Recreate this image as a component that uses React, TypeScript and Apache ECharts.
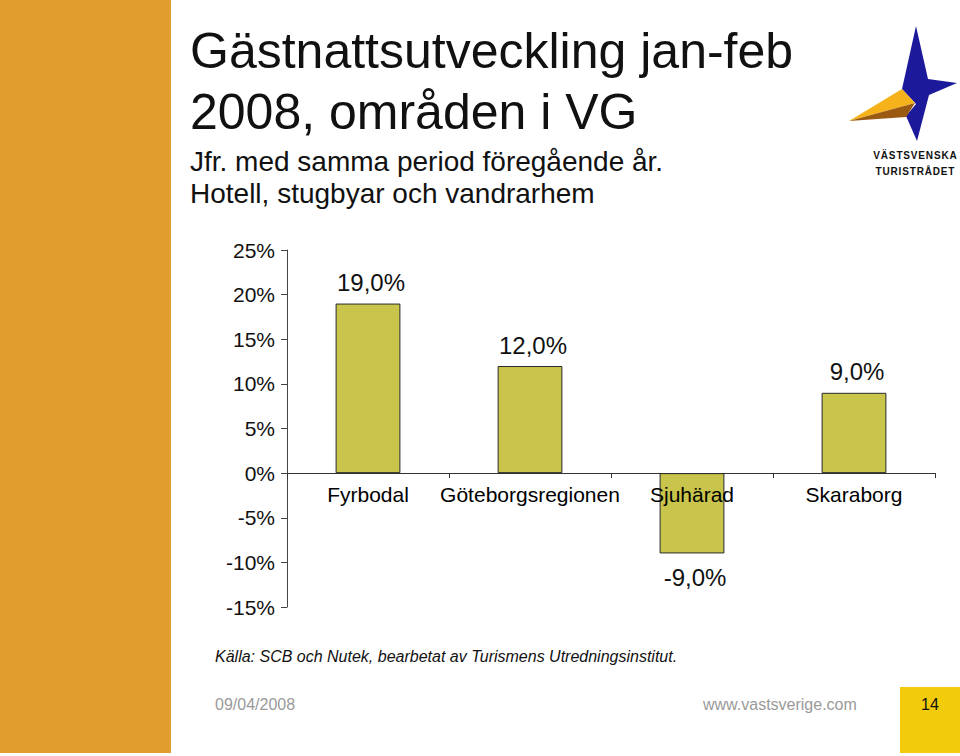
import React, { useEffect, useRef } from "react";
import * as echarts from "echarts";

const categories = ["Fyrbodal", "Göteborgsregionen", "Sjuhärad", "Skaraborg"];
const values = [19.0, 12.0, -9.0, 9.0];
const yMin = -15;
const yMax = 25;
const yStep = 5;

const titleLines = ["Gästnattsutveckling jan-feb", "2008, områden i VG"];
const subtitleLines = ["Jfr. med samma period föregående år.", "Hotell, stugbyar och vandrarhem"];
const sourceText = "Källa: SCB och Nutek, bearbetat av Turismens Utredningsinstitut.";
const footerDate = "09/04/2008";
const footerUrl = "www.vastsverige.com";
const pageNo = "14";
const logoLines = ["VÄSTSVENSKA", "TURISTRÅDET"];

const FONT = "'Liberation Sans', Arial, sans-serif";
const spaced = (s: string) => s.split("").join("\u200A");

export default function App() {
  const ref = useRef<HTMLDivElement>(null);
  useEffect(() => {
    if (!ref.current) return;
    const chart = echarts.init(ref.current, null, { renderer: "svg" });
    chart.setOption({
      animation: false,
      backgroundColor: "#ffffff",
      textStyle: { fontFamily: FONT },
      grid: { left: 287, right: 25, top: 250, bottom: 149, containLabel: false },
      xAxis: {
        type: "category",
        data: categories,
        axisLine: { onZero: true, lineStyle: { color: "#333", width: 1 } },
        axisTick: { show: true, length: 5, lineStyle: { color: "#333" } },
        axisLabel: { show: false },
        splitLine: { show: false },
      },
      yAxis: {
        type: "value",
        min: yMin,
        max: yMax,
        interval: yStep,
        axisLine: { show: true, lineStyle: { color: "#444", width: 1 } },
        axisTick: { show: true, length: 6, lineStyle: { color: "#444" } },
        axisLabel: { color: "#111", fontSize: 21, margin: 12, formatter: "{value}%", fontFamily: FONT },
        splitLine: { show: false },
      },
      series: [
        {
          type: "bar",
          barWidth: "40%",
          z: 2,
          data: values.map((v) => ({
            value: v,
            label: { position: v < 0 ? "bottom" : "top", distance: v < 0 ? 12 : 9 },
          })),
          itemStyle: { color: "#c9c44c", borderColor: "#2a2a2a", borderWidth: 1 },
          label: {
            show: true,
            fontSize: 24,
            color: "#111",
            offset: [3, 0],
            fontFamily: FONT,
            formatter: (p: any) => p.value.toFixed(1).replace(".", ",") + "%",
          },
        },
        {
          type: "scatter",
          z: 5,
          symbol: "circle",
          symbolSize: 2,
          itemStyle: { color: "rgba(0,0,0,0)", opacity: 1 },
          silent: true,
          data: categories.map((c) => ({ name: c, value: [c, 0] })),
          label: {
            show: true,
            position: "bottom",
            distance: 10,
            fontSize: 21,
            color: "#000",
            fontFamily: FONT,
            formatter: "{b}",
          },
        },
      ],
      graphic: [
        { type: "rect", shape: { x: 0, y: 0, width: 171, height: 753 }, style: { fill: "#e09e2e" } },
        { type: "text", x: 190, y: 51, style: { text: titleLines[0], font: `50px ${FONT}`, fill: "#111", textVerticalAlign: "middle" } },
        { type: "text", x: 190, y: 112, style: { text: titleLines[1], font: `50px ${FONT}`, fill: "#111", textVerticalAlign: "middle" } },
        { type: "text", x: 190, y: 161, style: { text: subtitleLines[0], font: `28px ${FONT}`, fill: "#111", textVerticalAlign: "middle" } },
        { type: "text", x: 190, y: 193, style: { text: subtitleLines[1], font: `28px ${FONT}`, fill: "#111", textVerticalAlign: "middle" } },
        { type: "text", x: 215, y: 656, style: { text: sourceText, font: `italic 16px ${FONT}`, fill: "#111", textVerticalAlign: "middle" } },
        { type: "text", x: 215, y: 704, style: { text: footerDate, font: `16px ${FONT}`, fill: "#9a9a9a", textVerticalAlign: "middle" } },
        { type: "text", x: 703, y: 704, style: { text: footerUrl, font: `16px ${FONT}`, fill: "#9a9a9a", textVerticalAlign: "middle" } },
        { type: "rect", shape: { x: 900, y: 687, width: 60, height: 66 }, style: { fill: "#f2cc0a" } },
        { type: "text", x: 930, y: 704, style: { text: pageNo, font: `16px ${FONT}`, fill: "#111", textAlign: "center", textVerticalAlign: "middle" } },
        // logo
        {
          type: "polygon",
          shape: { points: [[916, 26], [928, 79], [957, 83], [929, 95], [917, 141], [906, 116], [916, 104], [902, 89]] },
          style: { fill: "#1c1a9a" },
        },
        { type: "polygon", shape: { points: [[849, 121], [902, 89], [915, 103]] }, style: { fill: "#f5b21a" } },
        { type: "polygon", shape: { points: [[849, 121], [915, 103], [906, 117]] }, style: { fill: "#9a5a12" } },
        { type: "text", x: 915, y: 155, style: { text: spaced(logoLines[0]), font: `bold 10px ${FONT}`, fill: "#111", textAlign: "center", textVerticalAlign: "middle" } },
        { type: "text", x: 915, y: 171, style: { text: spaced(logoLines[1]), font: `bold 10px ${FONT}`, fill: "#111", textAlign: "center", textVerticalAlign: "middle" } },
      ],
    });
    return () => chart.dispose();
  }, []);
  return <div ref={ref} style={{ position: "absolute", left: 0, top: 0, width: 960, height: 756 }} />;
}
